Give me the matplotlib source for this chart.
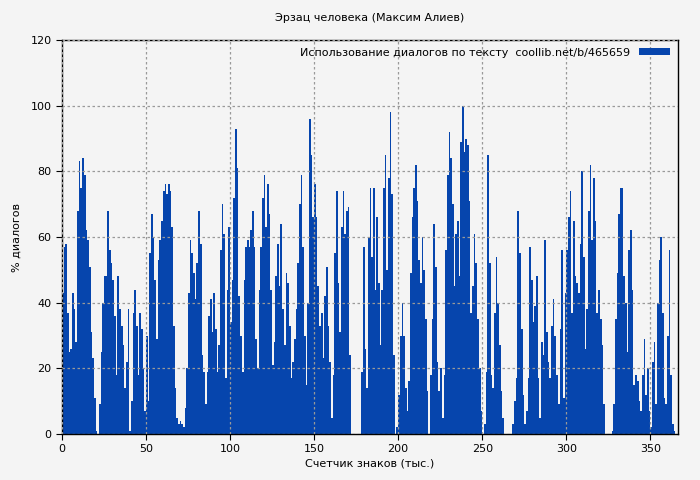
import matplotlib
matplotlib.use("Agg")
import matplotlib.pyplot as plt
import numpy as np

seg_a = [43,57,58,37,25,26,43,38,28,68,83,75,84,79,62,59,51,31,
         23,11,1,0, 9,25,40,
         48,48,68,56,52,47,36,18,48,38,33,27,14,22,38, 1,10,
         37,44,33,18,37,32,20,7,30,10,55,67,60,47,29,53,59,65,74,76,73,76,74,
         63,33,14,5,3,4,3,2,8,20,
         43,59,55,49,41,52,68,58,24,19,9,19,36,41,31]
seg_b = [43,32,19,27,56,70,61,17,44,63,
         34,47,72,93, 81,42,30,
         19,47,57,59,57,62,68,57,29,
         20,44,57,72,79,63,76,67,44,21,
         28,48,58,45,64,38,27,49,46,33,
         17,22,29,38,52,70,79,57,30,15,40,
         96,85,66,76,66,45,33,37,23,
         42,51,33,22,5,
         18,55,74,46,31,63,74,61,68,69,24,
         0,0,0,0,0,0,
         19,57,26,14,60,75]
seg_c = [54,75,44,66,46,27,44,75,85,50,78,98, 73,24,0,
         2,12,30,40,30,14,7,16,49,66,75,
         82,71,53,46,60,50,35, 13,0,
         18,35,64,51,22,13,20,5,
         18,56,79,92,84,70,45,61,65,48,89,100,86,90,88,71,37,45,61,
         52,35,20,7,0,
         3,19,85,52,18,14,37,54,40,27,13,5,
         0,0,0,0,0,
         3,10,17,68,55,32,12,3]
seg_d = [7,17,57,47,34,39,48,17,5,28,24,59,31,22,17,33,41,30,18,9,32,56,11,43,
         56,66,74,37,65,48,46,43,58,80,54,26,38,68,82,59,78,65,37,44,35,27,9,
         0,0,0,0,
         1,9,35,49,67,75,75,48,40,25,56,62,44,15,18,16,10,7,18,29,12,20,7,2,
         22,28,9,40,53,60,37,11,9,30,56,18,3,1]
values = seg_a[:90] + seg_b + seg_c + seg_d
x = np.arange(len(values))

title = "Эрзац человека (Максим Алиев)"
xlabel = "Счетчик знаков (тыс.)"
ylabel = "% диалогов"
legend_label = "Использование диалогов по тексту  coollib.net/b/465659"

bg = "#f4f4f4"
fig = plt.figure(figsize=(7, 4.8), dpi=100, facecolor=bg)
ax = fig.add_axes([62/700, 46/480, 616/700, 394/480], facecolor=bg)
ax.bar(x + 0.5, values, width=1.0, color="#0645ad", linewidth=0, label=legend_label)
ax.set_xlim(0, 366.5)
ax.set_ylim(0, 120)
ax.set_xticks(range(0, 351, 50))
ax.set_yticks(range(0, 121, 20))
ax.grid(True, linestyle=(0, (2, 2)), color="#999999", linewidth=0.9)
ax.set_axisbelow(False)
for s in ax.spines.values():
    s.set_linewidth(1.0)
ax.tick_params(labelsize=8, length=4)
ax.set_title(title, fontsize=8, pad=14)
ax.set_xlabel(xlabel, fontsize=8, labelpad=3)
ax.set_ylabel(ylabel, fontsize=8, labelpad=6)
leg = ax.legend(loc="upper right", frameon=False, fontsize=8, handlelength=2.8,
                handleheight=0.6, markerfirst=False, borderaxespad=0.3)
fig.savefig("out.png", dpi=100, facecolor=bg)
